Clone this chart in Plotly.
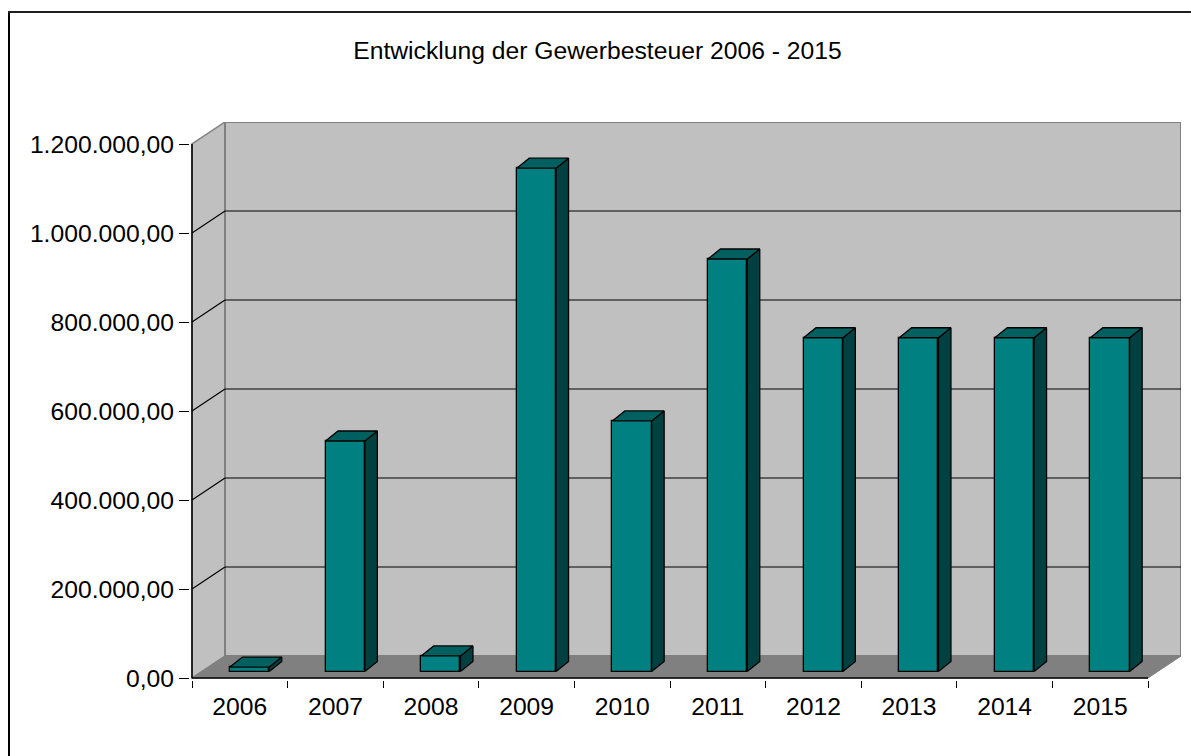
import plotly.graph_objects as go

# ---------------- data ----------------
years = ["2006", "2007", "2008", "2009", "2010", "2011", "2012", "2013", "2014", "2015"]
values = [10000, 518000, 35000, 1131000, 563000, 927000, 750000, 750000, 750000, 750000]
y_ticks = [0, 200000, 400000, 600000, 800000, 1000000, 1200000]
title_text = "Entwicklung der Gewerbesteuer 2006 - 2015"

# ---------------- geometry (pixels) ----------------
FIG_W, FIG_H = 1191, 756
X0_PX, X1_PX = 192, 1148          # front floor edge, left/right
Y0_PX, Y1_PX = 678, 144           # value 0 / top tick on front plane
DXW, DYW = 33, 22                 # depth offset of walls
PAD = 2
BAR_W, BAR_OFF_X, BAR_OFF_Y = 39.3, 9.8, 6.5
BAR_DX, BAR_DY = 12.5, 10

n = len(years)
ymax = y_ticks[-1]
ux = (X1_PX - X0_PX) / n
uy = (Y0_PX - Y1_PX) / ymax

m_l = X0_PX - PAD
m_r = FIG_W - (X1_PX + DXW)
m_t = Y1_PX - DYW
m_b = FIG_H - (Y0_PX + PAD)
plot_w = FIG_W - m_l - m_r
plot_h = FIG_H - m_t - m_b

x_range = [-PAD / ux, (X1_PX + DXW - X0_PX) / ux]
y_range = [-PAD / uy, (Y0_PX - (Y1_PX - DYW)) / uy]

dxw, dyw = DXW / ux, DYW / uy
offx, offy = BAR_OFF_X / ux, BAR_OFF_Y / uy
bw = BAR_W / ux
bdx, bdy = BAR_DX / ux, BAR_DY / uy

FONT = "Liberation Sans, Arial, sans-serif"
FS = 24.7

fig = go.Figure()

# front faces
xc = [i + 0.5 + offx for i in range(n)]
fig.add_trace(go.Bar(
    x=xc, y=values, base=offy, width=bw,
    marker=dict(color="#008080", line=dict(color="#000000", width=1.3)),
    hoverinfo="skip", showlegend=False,
))

# side faces and top faces
sx, sy, tx, ty = [], [], [], []
for c, v in zip(xc, values):
    xl, xr = c - bw / 2, c + bw / 2
    b0, b1 = offy, offy + v
    sx += [xr, xr + bdx, xr + bdx, xr, xr, None]
    sy += [b0, b0 + bdy, b1 + bdy, b1, b0, None]
    tx += [xl, xr, xr + bdx, xl + bdx, xl, None]
    ty += [b1, b1, b1 + bdy, b1 + bdy, b1, None]

fig.add_trace(go.Scatter(x=sx, y=sy, mode="lines", fill="toself",
                         fillcolor="#004040", line=dict(color="#000000", width=1.3),
                         hoverinfo="skip", showlegend=False))
fig.add_trace(go.Scatter(x=tx, y=ty, mode="lines", fill="toself",
                         fillcolor="#006060", line=dict(color="#000000", width=1.3),
                         hoverinfo="skip", showlegend=False))

shapes = []
# side wall
shapes.append(dict(type="path", xref="x", yref="y", layer="below",
                   path=f"M 0,0 L 0,{ymax} L {dxw},{ymax + dyw} L {dxw},{dyw} Z",
                   fillcolor="#C0C0C0", line=dict(color="#808080", width=1.5)))
# back wall
shapes.append(dict(type="rect", xref="x", yref="y", layer="below",
                   x0=dxw, x1=n + dxw, y0=dyw, y1=ymax + dyw,
                   fillcolor="#C0C0C0", line=dict(color="#808080", width=2)))
# floor
shapes.append(dict(type="path", xref="x", yref="y", layer="below",
                   path=f"M 0,0 L {n},0 L {n + dxw},{dyw} L {dxw},{dyw} Z",
                   fillcolor="#808080", line=dict(color="#808080", width=1)))
# gridlines
for v in y_ticks[1:-1]:
    shapes.append(dict(type="line", xref="x", yref="y", layer="below",
                       x0=dxw, x1=n + dxw, y0=v + dyw, y1=v + dyw,
                       line=dict(color="#000000", width=1.2)))
    shapes.append(dict(type="line", xref="x", yref="y", layer="below",
                       x0=0, x1=dxw, y0=v, y1=v + dyw,
                       line=dict(color="#000000", width=1.2)))
# axis lines
shapes.append(dict(type="line", xref="x", yref="y", layer="above",
                   x0=0, x1=0, y0=0, y1=ymax, line=dict(color="#000000", width=1.5)))
shapes.append(dict(type="line", xref="x", yref="y", layer="above",
                   x0=0, x1=n, y0=0, y1=0, line=dict(color="#000000", width=1.5)))


def px_x(p):
    return (p - m_l) / plot_w


def px_y(p):
    return (FIG_H - m_b - p) / plot_h


# outer frame (left and top edges visible)
shapes.append(dict(type="line", xref="paper", yref="paper",
                   x0=px_x(9), x1=px_x(9), y0=px_y(12), y1=px_y(FIG_H + 5),
                   line=dict(color="#000000", width=2)))
shapes.append(dict(type="line", xref="paper", yref="paper",
                   x0=px_x(8), x1=px_x(FIG_W + 5), y0=px_y(12), y1=px_y(12),
                   line=dict(color="#202020", width=2)))

fig.update_layout(
    width=FIG_W, height=FIG_H,
    margin=dict(l=m_l, r=m_r, t=m_t, b=m_b, pad=0),
    paper_bgcolor="#FFFFFF", plot_bgcolor="#FFFFFF",
    separators=",.",
    font=dict(family=FONT, size=FS, color="#000000"),
    title=dict(text=title_text, x=597.5 / FIG_W, xref="container", xanchor="center",
               y=1 - 50 / FIG_H, yref="container", yanchor="middle",
               font=dict(family=FONT, size=FS, color="#000000")),
    shapes=shapes,
    showlegend=False,
    bargap=0,
    xaxis=dict(range=x_range, showgrid=False, zeroline=False, showline=False,
               tickmode="array", tickvals=[i + 0.5 for i in range(n)], ticktext=years,
               ticks="", tickfont=dict(family=FONT, size=FS), ticklabelstandoff=9,
               minor=dict(tickmode="array", tickvals=list(range(n + 1)),
                          ticks="outside", ticklen=7, tickcolor="#000000", tickwidth=1,
                          showgrid=False),
               fixedrange=True),
    yaxis=dict(range=y_range, showgrid=False, zeroline=False, showline=False,
               tickmode="array", tickvals=y_ticks, tickformat=",.2f",
               ticks="outside", ticklen=10, tickcolor="#000000", tickwidth=1,
               ticklabelstandoff=0,
               tickfont=dict(family=FONT, size=FS), fixedrange=True),
)

fig.write_html("out.html", config={"displayModeBar": False},
               post_script="document.body.style.margin='0';document.body.style.overflow='hidden';")
